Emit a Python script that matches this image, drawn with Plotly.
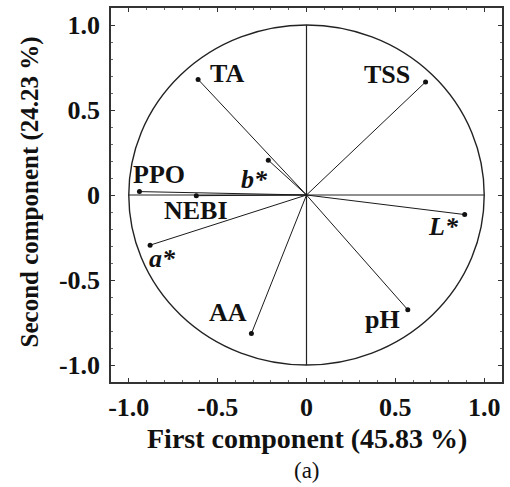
import plotly.graph_objects as go

# PCA loadings on the first two components
variables = ["TA", "TSS", "<i>b*</i>", "PPO", "NEBI", "<i>L*</i>", "<i>a*</i>", "AA", "pH"]
pc1 = [-0.61, 0.67, -0.215, -0.94, -0.62, 0.89, -0.88, -0.31, 0.57]
pc2 = [0.68, 0.665, 0.205, 0.02, -0.004, -0.115, -0.295, -0.815, -0.675]

# pixel offsets of each variable label from its loading point
label_dx = [29, -39, -14, 20, 0, -21, 12, -23, -25]
label_dy = [6, 7, -19, 17, -15, -12, -13, 21, -10]

tick_vals = [-1.0, -0.5, 0, 0.5, 1.0]
tick_text = ["-1.0", "-0.5", "0", "0.5", "1.0"]

FONT = "Liberation Serif"

fig = go.Figure()

# one vector per variable, from the origin to its loading
for x, y in zip(pc1, pc2):
    fig.add_trace(go.Scatter(
        x=[0, x], y=[0, y], mode="lines",
        line=dict(color="#1a1a1a", width=1), hoverinfo="skip", showlegend=False,
    ))

fig.add_trace(go.Scatter(
    x=pc1, y=pc2, mode="markers",
    marker=dict(color="#111111", size=5), showlegend=False,
))

for name, x, y, dx, dy in zip(variables, pc1, pc2, label_dx, label_dy):
    fig.add_annotation(
        x=x, y=y, text=f"<b>{name}</b>", showarrow=False,
        xshift=dx, yshift=dy,
        font=dict(family=FONT, size=26, color="#111111"),
    )

# unit correlation circle and the cross through the origin
fig.add_shape(type="circle", x0=-1, y0=-1, x1=1, y1=1,
              line=dict(color="#222222", width=1.4), layer="below")
fig.add_shape(type="line", x0=-1, y0=0, x1=1, y1=0,
              line=dict(color="#222222", width=1.2), layer="below")
fig.add_shape(type="line", x0=0, y0=-1, x1=0, y1=1,
              line=dict(color="#222222", width=1.2), layer="below")

axis_common = dict(
    range=[-1.1, 1.1], tickvals=tick_vals, ticktext=tick_text,
    ticks="inside", ticklen=4, tickwidth=1, tickcolor="#333333",
    showline=True, linecolor="#333333", linewidth=1.5, mirror="allticks",
    showgrid=False, zeroline=False,
    tickfont=dict(family=FONT, size=26, color="#111111", weight="bold"),
    minor=dict(dtick=0.1, ticks="inside", ticklen=2, tickcolor="#666666"),
)

fig.update_xaxes(**axis_common, ticklabelstandoff=1)
fig.update_yaxes(**axis_common, ticklabelstandoff=4)

fig.add_annotation(
    xref="paper", yref="paper", x=0.5, y=-0.152, yanchor="middle",
    text="<b>First component (45.83 %)</b>", showarrow=False,
    font=dict(family=FONT, size=28, color="#111111"),
)
fig.add_annotation(
    xref="paper", yref="paper", x=0.5, y=-0.237, yanchor="middle",
    text="(a)", showarrow=False,
    font=dict(family=FONT, size=23, color="#111111"),
)
fig.add_annotation(
    xref="paper", yref="paper", x=-0.206, y=0.508, xanchor="center", yanchor="middle",
    text="<b>Second component (24.23 %)</b>", showarrow=False, textangle=-90,
    font=dict(family=FONT, size=25, color="#111111"),
)

fig.update_layout(
    width=510, height=487,
    margin=dict(l=111, r=6, t=7, b=105),
    plot_bgcolor="white", paper_bgcolor="white",
)

fig.write_html("out.html")
